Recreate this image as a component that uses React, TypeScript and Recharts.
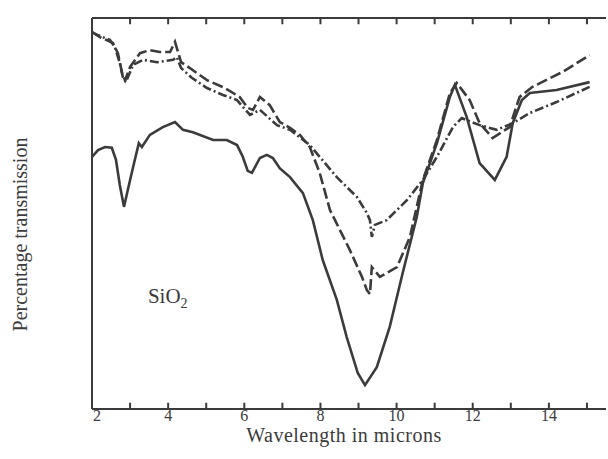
import {
  LineChart,
  Line,
  XAxis,
  YAxis,
  ReferenceDot,
  ReferenceLine,
} from "recharts";

// wavelength (microns) and transmission readings, one pair of arrays per curve
const solidWl = [
  2.0, 2.16, 2.34, 2.52, 2.63, 2.73, 2.84, 2.94, 3.08, 3.23, 3.31, 3.52, 3.86,
  4.18, 4.39, 4.65, 5.18, 5.54, 5.81, 5.96, 6.09, 6.2, 6.41, 6.59, 6.75, 6.93,
  7.2, 7.54, 7.8, 8.06, 8.43, 8.69, 8.98, 9.17, 9.48, 9.82, 10.16, 10.53, 10.69,
  11.06, 11.4, 11.53, 11.84, 12.18, 12.58, 12.89, 13.05, 13.29, 13.5, 14.2, 15.07,
];
const solidT = [
  64.5, 66.2, 67.0, 66.8, 63.7, 57.3, 51.7, 56.0, 61.9, 68.0, 67.0, 70.1, 72.1,
  73.4, 71.4, 70.8, 68.8, 68.8, 67.5, 64.5, 60.9, 60.4, 64.2, 65.0, 64.2, 61.6,
  59.3, 55.2, 48.3, 38.1, 27.9, 18.4, 9.2, 6.1, 10.7, 21.0, 34.8, 49.1, 57.8,
  68.0, 79.8, 82.9, 74.7, 62.9, 58.6, 64.5, 73.1, 79.0, 80.8, 81.6, 83.6,
];

const dashedWl = [
  2.0, 2.21, 2.55, 2.68, 2.79, 2.87, 3.0, 3.26, 3.52, 3.78, 4.05, 4.18, 4.34,
  4.57, 5.02, 5.49, 5.88, 6.09, 6.23, 6.41, 6.67, 6.93, 7.2, 7.46, 7.72, 7.98,
  8.25, 8.77, 9.09, 9.22, 9.3, 9.35, 9.56, 10.01, 10.35, 10.69, 11.06, 11.4,
  11.58, 11.92, 12.18, 12.52, 12.97, 13.23, 13.57, 14.36, 15.07,
];
const dashedT = [
  96.4, 95.1, 93.6, 91.0, 85.9, 84.1, 87.5, 91.0, 91.8, 91.3, 91.3, 93.9, 88.7,
  87.2, 84.1, 82.1, 79.8, 77.0, 76.5, 79.8, 77.7, 73.4, 71.9, 70.1, 67.0, 60.4,
  50.9, 40.7, 33.8, 30.4, 29.4, 36.3, 33.8, 36.3, 44.0, 58.6, 68.8, 80.8,
  83.4, 79.0, 73.1, 69.3, 72.1, 79.8, 82.4, 86.2, 90.5,
];

const dashDotWl = [
  2.0, 2.13, 2.47, 2.6, 2.73, 2.81, 2.89, 3.08, 3.34, 3.71, 4.13, 4.23, 4.34,
  4.62, 5.02, 5.44, 5.81, 6.15, 6.41, 6.86, 7.2, 7.72, 8.43, 8.96, 9.22, 9.3,
  9.35, 9.43, 9.74, 10.27, 10.69, 11.06, 11.48, 11.71, 12.18, 12.63, 13.05,
  13.5, 14.2, 15.07,
];
const dashDotT = [
  96.4, 95.7, 94.4, 92.6, 88.5, 84.9, 83.6, 88.0, 89.3, 88.7, 89.3, 90.0, 87.2,
  84.7, 82.1, 80.3, 79.0, 75.2, 76.5, 72.6, 71.4, 67.5, 59.3, 54.2, 50.1, 48.3,
  44.0, 47.1, 48.3, 53.4, 58.6, 64.5, 72.1, 74.4, 72.6, 71.4, 73.1,
  75.7, 78.5, 82.4,
];

const xTicks = [2, 3, 4, 5, 6, 7, 8, 9, 10, 11, 12, 13, 14, 15];
const xLabelTicks = [2, 4, 6, 8, 10, 12, 14];

const toRows = (wl: number[], t: number[]) =>
  wl.map((w, i) => ({ w, t: t[i] }));

const solidData = toRows(solidWl, solidT);
const dashedData = toRows(dashedWl, dashedT);
const dashDotData = toRows(dashDotWl, dashDotT);

const ink = "#3b3b3b";
const font = "'Liberation Serif', 'Times New Roman', serif";
const tickLen = 1.6; // inward tick length, in transmission units

const BottomTick = (props: any) => {
  const { x, y, payload } = props;
  const v = payload.value;
  if (!xLabelTicks.includes(v)) return null;
  return (
    <text
      x={v === 2 ? x + 5 : x}
      y={y + 12}
      textAnchor="middle"
      fontFamily={font}
      fontSize={16}
      fill={ink}
    >
      {v}
    </text>
  );
};

const YTitle = (props: any) => {
  const vb = props.viewBox;
  const cx = vb.x + 27;
  const cy = vb.y + vb.height / 2 + 21;
  return (
    <text
      x={cx}
      y={cy}
      transform={`rotate(-90 ${cx} ${cy})`}
      textAnchor="middle"
      fontFamily={font}
      fontSize={20}
      fill={ink}
    >
      Percentage transmission
    </text>
  );
};

const SiO2Label = (props: any) => {
  const vb = props.viewBox;
  return (
    <text x={vb.x - 5} y={vb.y} fontFamily={font} fontSize={21} fill={ink}>
      SiO
      <tspan dy={5} fontSize={14}>
        2
      </tspan>
    </text>
  );
};

export default function App() {
  return (
    <div style={{ position: "absolute", left: 0, top: 0, background: "#fff" }}>
      <LineChart
        width={608}
        height={459}
        margin={{ top: 17, right: 2, bottom: 0, left: 0 }}
      >
        <XAxis
          dataKey="w"
          type="number"
          domain={[2, 15.5]}
          ticks={xTicks}
          allowDataOverflow
          height={50}
          stroke={ink}
          strokeWidth={2}
          tickSize={0}
          tickMargin={0}
          tickLine={false}
          tick={<BottomTick />}
          interval={0}
          label={{
            value: "Wavelength in microns",
            position: "insideBottom",
            offset: 17,
            dx: -5,
            fontFamily: font,
            fontSize: 20,
            letterSpacing: 0.5,
            fill: ink,
          }}
        />
        <XAxis
          xAxisId="top"
          orientation="top"
          type="number"
          domain={[2, 15.5]}
          ticks={xTicks}
          allowDataOverflow
          height={1}
          stroke={ink}
          strokeWidth={2}
          tick={false}
          tickLine={false}
        />
        <YAxis
          type="number"
          domain={[0, 100]}
          width={92}
          tick={false}
          tickLine={false}
          stroke={ink}
          strokeWidth={2}
          label={{ content: YTitle }}
        />
        <YAxis
          yAxisId="r"
          orientation="right"
          type="number"
          domain={[0, 100]}
          width={0}
          tick={false}
          tickLine={false}
          stroke="#777"
          strokeWidth={1.5}
        />
        {xTicks
          .filter((v) => v > 2)
          .map((v) => (
            <ReferenceLine
              key={`b${v}`}
              segment={[
                { x: v, y: 0 },
                { x: v, y: tickLen },
              ]}
              stroke={ink}
              strokeWidth={2}
              ifOverflow="visible"
            />
          ))}
        {xTicks
          .filter((v) => v > 2)
          .map((v) => (
            <ReferenceLine
              key={`t${v}`}
              segment={[
                { x: v, y: 100 },
                { x: v, y: 100 - tickLen },
              ]}
              stroke={ink}
              strokeWidth={2}
              ifOverflow="visible"
            />
          ))}
        <Line
          data={solidData}
          dataKey="t"
          type="linear"
          stroke={ink}
          strokeWidth={2.6}
          dot={false}
          isAnimationActive={false}
        />
        <Line
          data={dashedData}
          dataKey="t"
          type="linear"
          stroke={ink}
          strokeWidth={2.6}
          strokeDasharray="11 4"
          dot={false}
          isAnimationActive={false}
        />
        <Line
          data={dashDotData}
          dataKey="t"
          type="linear"
          stroke={ink}
          strokeWidth={2.6}
          strokeDasharray="9 3 2 3"
          dot={false}
          isAnimationActive={false}
        />
        <ReferenceDot
          x={3.6}
          y={27.1}
          r={0}
          stroke="none"
          fill="none"
          label={{ content: SiO2Label }}
        />
      </LineChart>
    </div>
  );
}
